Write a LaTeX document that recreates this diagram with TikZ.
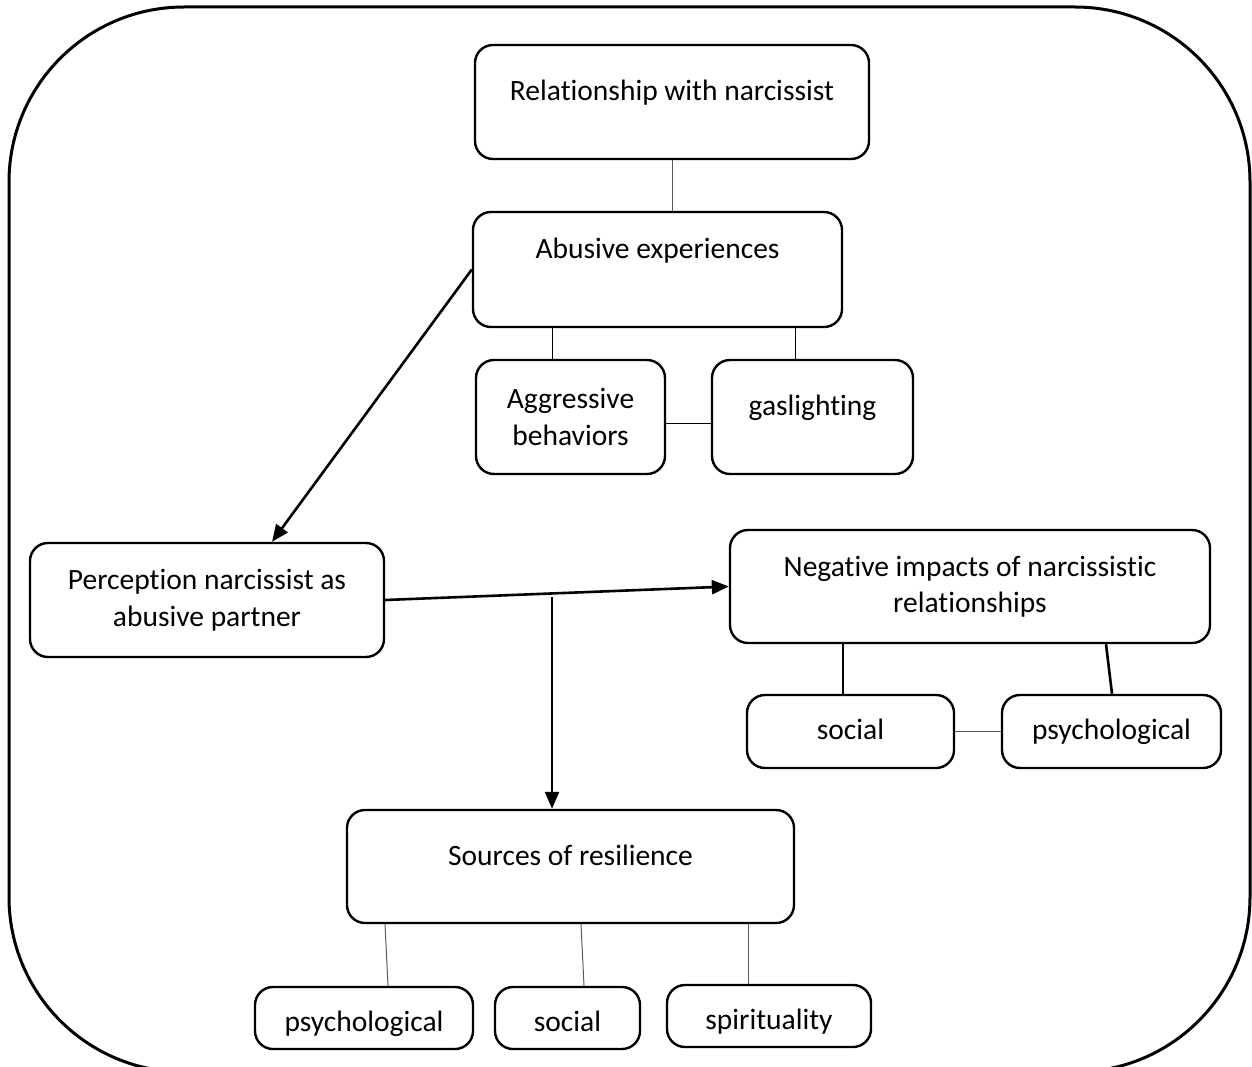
\documentclass[tikz,border=0pt]{standalone}
\usepackage{fontspec}
\setmainfont{Carlito}[Ligatures={NoCommon}]
\usetikzlibrary{arrows.meta}
\begin{document}
\begin{tikzpicture}[x=1pt,y=-1pt,
  box/.style={draw, line width=2.4pt, rounded corners=18pt, align=center,
    font=\fontsize{29.5}{36.5}\selectfont, inner sep=0pt},
  lowtext/.style={text height=33pt, text depth=6pt},
  midtext/.style={text height=21pt, text depth=6pt},
  thinline/.style={line width=1pt, black!65},
  thickline/.style={line width=2.6pt},
  arr/.style={line width=2.6pt, -{Triangle[length=17pt,width=14pt]}}]
\useasboundingbox (0,0) rectangle (1252,1067);
\clip (0,0) rectangle (1252,1067);
\draw[line width=3pt, rounded corners=175pt] (9,7) rectangle (1250,1072);

\node[box, minimum width=394pt, minimum height=114pt] (rel) at (672,102) {Relationship with narcissist\\[-12.5pt]\mbox{}};
\node[box, minimum width=369pt, minimum height=115pt] (abuse) at (657.5,269.5) {Abusive experiences\\[6pt]\mbox{}};
\node[box, minimum width=189pt, minimum height=114pt] (aggr) at (570.5,417) {Aggressive\\behaviors};
\node[box, minimum width=201pt, minimum height=114pt] (gas) at (812.5,417) {gaslighting\\[-14pt]\mbox{}};
\node[box, minimum width=354pt, minimum height=114pt] (perc) at (207,600) {Perception narcissist as\\abusive partner};
\node[box, minimum width=480pt, minimum height=113pt] (neg) at (970,586.5) {Negative impacts of narcissistic\\relationships};
\node[box, midtext, minimum width=207pt, minimum height=73pt] (soc1) at (850.5,731.5) {social};
\node[box, midtext, minimum width=219pt, minimum height=73pt] (psy1) at (1111.5,731.5) {psychological};
\node[box, minimum width=447pt, minimum height=113pt] (src) at (570.5,866.5) {Sources of resilience\\[-14pt]\mbox{}};
\node[box, lowtext, minimum width=218pt, minimum height=62pt] (psy2) at (364,1018) {psychological};
\node[box, lowtext, minimum width=145pt, minimum height=62pt] (soc2) at (567.5,1018) {social};
\node[box, lowtext, minimum width=204pt, minimum height=62pt] (spir) at (769,1016) {spirituality};

\coordinate (xa) at (552,0);
\coordinate (xg) at (795,0);
\coordinate (xb) at (272,0);
\coordinate (vs) at (552,597);
\coordinate (xc) at (843,0);
\coordinate (xd) at (1106,0);
\coordinate (xe) at (1112,0);
\coordinate (s1a) at (385,0);
\coordinate (s1b) at (388,0);
\coordinate (s2a) at (581,0);
\coordinate (s2b) at (584,0);
\coordinate (s3) at (748,0);

\draw[thinline] (rel.south) -- (rel.south |- abuse.north);
\draw[thinline, black] (abuse.south -| xa) -- (aggr.north -| xa);
\draw[thinline, black] (abuse.south -| xg) -- (gas.north -| xg);
\draw[thinline, black] ([yshift=-6pt]aggr.east) -- ([yshift=-6pt]gas.west);

\draw[arr] (abuse.west) -- (perc.north -| xb);
\draw[arr] (perc.east) -- (neg.west);
\draw[arr] (vs) -- (src.north -| vs);

\draw[thickline] (neg.south -| xc) -- (soc1.north -| xc);
\draw[thickline] (neg.south -| xd) -- (psy1.north -| xe);
\draw[thinline] (soc1.east) -- (psy1.west);

\draw[thinline] (src.south -| s1a) -- (psy2.north -| s1b);
\draw[thinline] (src.south -| s2a) -- (soc2.north -| s2b);
\draw[thinline] (src.south -| s3) -- (spir.north -| s3);
\end{tikzpicture}
\end{document}
